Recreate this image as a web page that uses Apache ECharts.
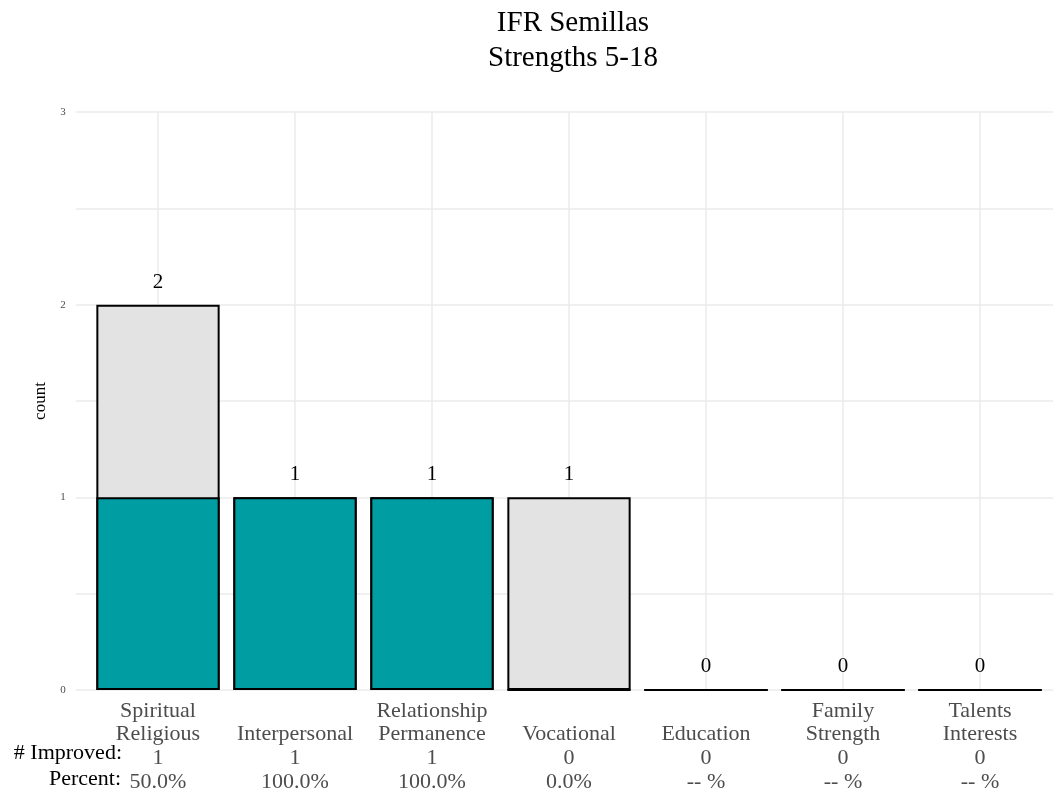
<!DOCTYPE html>
<html>
<head>
<meta charset="utf-8">
<script src="https://cdn.jsdelivr.net/npm/echarts@6/dist/echarts.min.js"></script>
<style>
html,body{margin:0;padding:0;background:#fff;}
#chart{width:1053px;height:791px;}
</style>
</head>
<body>
<div id="chart"></div>
<script>
var categories = ["Spiritual\nReligious", "Interpersonal", "Relationship\nPermanence", "Vocational", "Education", "Family\nStrength", "Talents\nInterests"];
var improved = [1, 1, 1, 0, 0, 0, 0];
var notImproved = [1, 0, 0, 1, 0, 0, 0];
var improvedLabels = ["1", "1", "1", "0", "0", "0", "0"];
var percentLabels = ["50.0%", "100.0%", "100.0%", "0.0%", "-- %", "-- %", "-- %"];
var yTicks = [0, 1, 2, 3];

var FONT = "'Liberation Serif', 'DejaVu Serif', serif";

var chart = echarts.init(document.getElementById('chart'), null, {renderer: 'canvas'});

// total bar (grey part sits on top of improved part)
var totalData = improved.map(function (v, i) { return [i + 1, v + notImproved[i]]; });
var impData = improved.map(function (v, i) { return [i + 1, v]; });

var option = {
  backgroundColor: '#ffffff',
  animation: false,
  textStyle: {fontFamily: FONT},
  title: {
    text: 'IFR Semillas\nStrengths 5-18',
    left: 568,
    top: 1,
    textAlign: 'center',
    textStyle: {fontFamily: FONT, fontSize: 29, fontWeight: 'normal', color: '#000', lineHeight: 35}
  },
  grid: {left: 75.8, top: 112, width: 986.4, height: 578, containLabel: false, outerBoundsMode: 'none'},
  xAxis: {
    type: 'value',
    min: 0.4,
    max: 7.6,
    splitNumber: 7,
    axisLine: {show: false},
    axisTick: {show: false},
    splitLine: {show: true, showMinLine: false, showMaxLine: false, lineStyle: {color: '#EBEBEB', width: 1.5}},
    axisLabel: {
      margin: 9,
      showMinLabel: false,
      showMaxLabel: false,
      formatter: function (v) {
        var i = Math.round(v) - 1;
        if (Math.abs(v - Math.round(v)) > 1e-6 || i < 0 || i >= categories.length) return '';
        var name = categories[i];
        if (name.indexOf('\n') < 0) name = ' \n' + name;
        return name + '\n' + improvedLabels[i] + '\n' + percentLabels[i];
      },
      fontFamily: FONT,
      fontSize: 22,
      lineHeight: 23.7,
      color: '#4D4D4D',
      align: 'center',
      verticalAlign: 'top'
    }
  },
  yAxis: {
    type: 'value',
    min: 0,
    max: 3,
    interval: 0.5,
    name: 'count',
    nameLocation: 'middle',
    nameGap: 27,
    nameRotate: 90,
    nameTextStyle: {fontFamily: FONT, fontSize: 17, color: '#000'},
    axisLine: {show: false},
    axisTick: {show: false},
    splitLine: {show: true, lineStyle: {color: '#EBEBEB', width: 1.5}},
    axisLabel: {
      margin: 10,
      fontFamily: FONT,
      fontSize: 11,
      color: '#4D4D4D',
      formatter: function (v) {
        return yTicks.indexOf(v) >= 0 ? String(v) : '';
      }
    }
  },
  graphic: [
    {type: 'text', right: 1053 - 122, top: 742,
     style: {text: '# Improved:', font: "22px 'Liberation Serif', serif", fill: '#000', textAlign: 'right'}},
    {type: 'text', right: 1053 - 121, top: 768,
     style: {text: 'Percent:', font: "22px 'Liberation Serif', serif", fill: '#000', textAlign: 'right'}}
  ],
  series: [
    {
      name: 'Total',
      type: 'bar',
      barWidth: 123.3,
      barGap: '-100%',
      clip: false,
      z: 2,
      data: totalData,
      itemStyle: {color: '#E3E3E3', borderColor: '#000', borderWidth: 2},
      label: {
        show: true,
        position: 'top',
        distance: 12,
        fontFamily: FONT,
        fontSize: 21,
        color: '#000',
        formatter: function (p) {
          return String(p.value[1]);
        }
      }
    },
    {
      name: 'Improved',
      type: 'bar',
      barWidth: 123.3,
      barGap: '-100%',
      clip: false,
      z: 3,
      data: impData,
      itemStyle: {color: '#009EA3', borderColor: '#000', borderWidth: 2}
    }
  ]
};
chart.setOption(option);
</script>
</body>
</html>
